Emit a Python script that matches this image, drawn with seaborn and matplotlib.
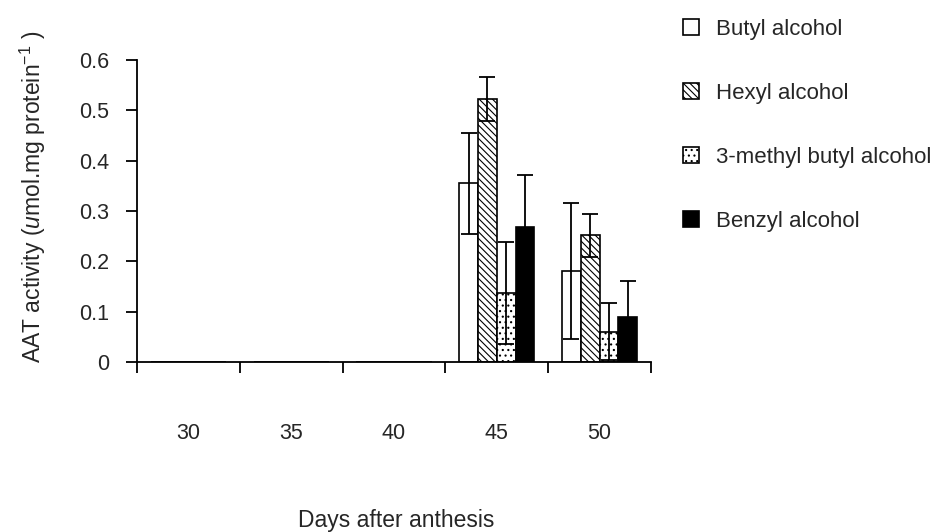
import matplotlib
matplotlib.use("Agg")
import matplotlib.pyplot as plt
import matplotlib.patches as mpatches
from matplotlib.container import BarContainer
import seaborn as sns
import pandas as pd
import numpy as np

days = ["30", "35", "40", "45", "50"]
series = ["Butyl alcohol", "Hexyl alcohol", "3-methyl butyl alcohol", "Benzyl alcohol"]
butyl = [0, 0, 0, 0.355, 0.181]
hexyl = [0, 0, 0, 0.522, 0.252]
methyl = [0, 0, 0, 0.137, 0.060]
benzyl = [0, 0, 0, 0.269, 0.090]
butyl_err = [0, 0, 0, 0.100, 0.135]
hexyl_err = [0, 0, 0, 0.044, 0.043]
methyl_err = [0, 0, 0, 0.102, 0.057]
benzyl_err = [0, 0, 0, 0.103, 0.071]

sns.set_theme(style="ticks")
plt.rcParams['font.family'] = ['Liberation Sans', 'DejaVu Sans']
plt.rcParams['mathtext.fontset'] = 'custom'
plt.rcParams['mathtext.rm'] = 'Liberation Sans'
plt.rcParams['mathtext.it'] = 'Liberation Sans:italic'
plt.rcParams['hatch.linewidth'] = 0.8

vals = [butyl, hexyl, methyl, benzyl]
errs = [butyl_err, hexyl_err, methyl_err, benzyl_err]
rows = []
for s, v, e in zip(series, vals, errs):
    for d, vv, ee in zip(days, v, e):
        rows.append({"day": d, "series": s, "value": vv, "err": ee})
df = pd.DataFrame(rows)

fig = plt.figure(figsize=(9.51, 5.32), dpi=100)
ax = fig.add_axes([137/951, 1-362/532, (651-137)/951, (362-60)/532])

faces = ["white", "white", "white", "black"]
hatches = ["", "\\\\\\\\\\", "...", ""]
palette = dict(zip(series, faces))
sns.barplot(data=df, x="day", y="value", hue="series", order=days, hue_order=series,
            palette=palette, errorbar=None, width=0.73, edgecolor="black",
            linewidth=1.2, legend=False, ax=ax, saturation=1)

conts = [c for c in ax.containers if isinstance(c, BarContainer)]
for i, cont in enumerate(conts):
    for j, p in enumerate(cont.patches):
        p.set_hatch(hatches[i])
        p.set_facecolor(faces[i])
        p.set_edgecolor("black")
        h = p.get_height()
        e = errs[i][j]
        if e > 0:
            xc = p.get_x() + p.get_width() / 2
            ax.errorbar(xc, h, yerr=e, fmt="none", ecolor="black", elinewidth=1.3,
                        capsize=5.5, capthick=1.3, zorder=5)

FS = 16
ax.set_ylim(0, 0.6)
ax.set_xlim(-0.5, 4.5)
ax.set_yticks([0, 0.1, 0.2, 0.3, 0.4, 0.5, 0.6])
ax.set_yticklabels(["0", "0.1", "0.2", "0.3", "0.4", "0.5", "0.6"])
ax.set_xticks(np.arange(-0.5, 5, 1))
ax.set_xticklabels([])
ax.set_xticks(np.arange(5), minor=True)
ax.set_xticklabels(days, minor=True)
ax.tick_params(axis="x", which="major", direction="out", length=8, width=1.3, color="black")
ax.tick_params(axis="x", which="minor", length=0, pad=44, labelsize=15.5)
ax.tick_params(axis="y", direction="out", length=8, width=1.3, pad=12, labelsize=15.5, color="black")
ax.set_xlabel("")
ax.set_ylabel("")
for sp in ["top", "right"]:
    ax.spines[sp].set_visible(False)
for sp in ["left", "bottom"]:
    ax.spines[sp].set_linewidth(1.3)
    ax.spines[sp].set_color("black")

fig.text(396/951, 1-521/532, "Days after anthesis", ha="center", va="center", fontsize=16.5)
fig.text(33/951, 1-197/532, r"AAT activity ($\mathit{u}$mol.mg protein$^{-1}$ )",
         rotation=90, ha="center", va="center", fontsize=16.5)

handles = [mpatches.Patch(facecolor=faces[i], edgecolor="black", hatch=hatches[i], linewidth=1.2)
           for i in range(4)]
leg = fig.legend(handles, series, loc="upper left", bbox_to_anchor=(683/951, 1-19/532),
                 frameon=False, fontsize=FS, labelspacing=1.93, handlelength=0.7,
                 handleheight=0.7, handletextpad=0.8, borderaxespad=0, borderpad=0)

fig.savefig("out.png", dpi=100)
